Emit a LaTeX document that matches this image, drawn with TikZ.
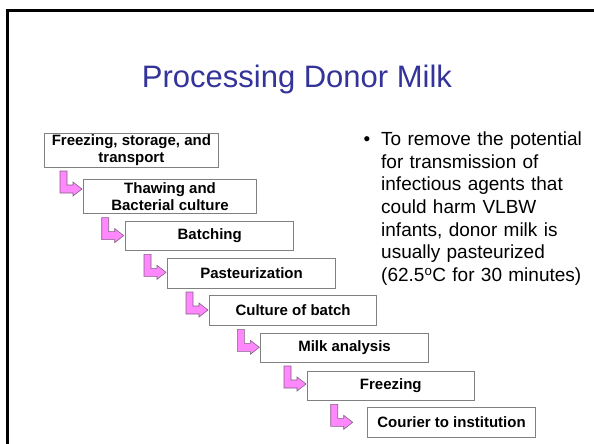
\documentclass[tikz,border=0pt]{standalone}
\usepackage{fontspec}
\setmainfont{Liberation Sans}
\usepackage{xcolor}

\definecolor{titleblue}{RGB}{51,51,153}
\definecolor{arrowpink}{RGB}{255,136,255}
\definecolor{arrowedge}{RGB}{130,95,130}
\definecolor{boxgray}{RGB}{128,128,128}

\begin{document}
\begin{tikzpicture}[x=1pt,y=-1pt,
        stepbox/.style={draw=boxgray,line width=0.8pt,fill=white,anchor=north west,inner sep=0pt,
            align=center,font=\fontsize{15}{17.8}\selectfont\bfseries},
        bent/.pic={\filldraw[draw=arrowedge,fill=arrowpink,line width=0.6pt]
            (0,0) -- (7,0) -- (7,14) -- (13,14) -- (13,11) -- (22,18) -- (13,25) -- (13,22) -- (0,22) -- cycle;}]
            \useasboundingbox (0,0) rectangle (594,444);
            \draw[line width=2.5pt] (7.5,444) -- (7.5,10.5) -- (594,10.5);
            \node (title) at (297,88) [anchor=base,text=titleblue,font=\fontsize{31}{36}\selectfont] {Processing Donor Milk};
            \node (b1) at (44,132.7) [stepbox,minimum width=174pt,minimum height=34pt] {Freezing, storage, and\\transport};
            \node (b2) at (83.3,179.3) [stepbox,minimum width=172.7pt,minimum height=34pt] {Thawing and\\Bacterial culture};
            \node (b3) at (125.3,221) [stepbox,minimum width=168pt,minimum height=29pt] {Batching};
            \node (b4) at (167.3,258.3) [stepbox,minimum width=167.7pt,minimum height=29.4pt] {Pasteurization};
            \node (b5) at (209.3,295) [stepbox,minimum width=166.7pt,minimum height=30pt] {Culture of batch};
            \node (b6) at (260,333.3) [stepbox,minimum width=168.3pt,minimum height=28.4pt] {Milk analysis};
            \node (b7) at (306.7,370.7) [stepbox,minimum width=167.3pt,minimum height=29.3pt] {Freezing};
            \node (b8) at (367.3,406.7) [stepbox,minimum width=167.7pt,minimum height=30pt] {Courier to institution};
            \foreach \up/\dx in {b1/16,b2/18.4,b3/18.7,b4/18.7,b5/28,b6/24,b7/24}
                \pic at ([xshift=\dx pt,yshift=-3.5pt]\up.south west) {bent};
            \node (dot) at (367,145.7) [anchor=base,font=\fontsize{19}{22.5}\selectfont] {•};
            \node (note) at (381,131.8) [anchor=north west,inner sep=0pt,text width=210pt,align=left,
                font=\fontsize{19}{22.6}\selectfont] {To remove the potential\\for transmission of\\infectious agents that\\could harm VLBW\\infants, donor milk is\\usually pasteurized\\(62.5\textsuperscript{o}C for 30 minutes)};
        \end{tikzpicture}
\end{document}
